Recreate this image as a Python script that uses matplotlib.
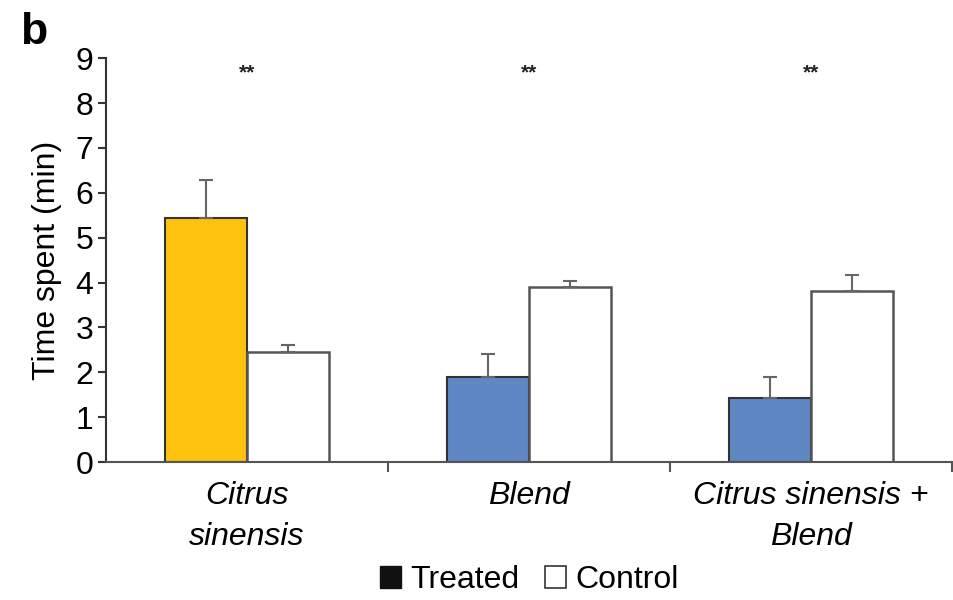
import numpy as np
import matplotlib
matplotlib.use('Agg')
import matplotlib.pyplot as plt
from matplotlib.patches import Patch

plt.rcParams['font.family'] = ['Liberation Sans', 'DejaVu Sans']

groups = ['Citrus\nsinensis', 'Blend', 'Citrus sinensis +\nBlend']
treated = [5.43, 1.89, 1.42]
treated_err = [0.85, 0.51, 0.47]
control = [2.45, 3.90, 3.81]
control_err = [0.15, 0.13, 0.35]
treated_colors = ['#FFC20E', '#5F87C3', '#5F87C3']
signif = ['**', '**', '**']

x = np.arange(len(groups))
w = 0.29

fig = plt.figure(figsize=(9.54, 6), dpi=100)
ax = fig.add_axes([0.111, 0.23, 0.887, 0.673])

ax.bar(x - w/2, treated, w, color=treated_colors, edgecolor='#333333', linewidth=1.5)
ax.errorbar(x - w/2, treated, yerr=[np.zeros(3), treated_err], fmt='none',
            ecolor='#666666', elinewidth=1.5, capsize=5, capthick=1.5)
ax.bar(x + w/2, control, w, color='white', edgecolor='#555555', linewidth=1.8)
ax.errorbar(x + w/2, control, yerr=[np.zeros(3), control_err], fmt='none',
            ecolor='#666666', elinewidth=1.5, capsize=5, capthick=1.5)

for i, s in enumerate(signif):
    ax.text(x[i], 8.68, s, ha='center', va='center', fontsize=15,
            fontweight='bold', color='#222222')

ax.set_xlim(-0.5, 2.5)
ax.set_ylim(0, 9)
ax.set_yticks(range(10))
ax.tick_params(axis='y', labelsize=23, length=6, width=1.5, color='#333333', pad=3)
ax.set_xticks(x)
ax.set_xticklabels(groups, fontsize=23, style='italic', linespacing=1.45)
ax.tick_params(axis='x', which='major', length=0, pad=14)
ax.set_xticks([0.5, 1.5, 2.5], minor=True)
ax.tick_params(axis='x', which='minor', length=7, width=1.5, color='#555555')
ax.set_ylabel('Time spent (min)', fontsize=23, labelpad=10)

for side in ['top', 'right']:
    ax.spines[side].set_visible(False)
ax.spines['left'].set_color('#333333')
ax.spines['left'].set_linewidth(1.5)
ax.spines['bottom'].set_color('#555555')
ax.spines['bottom'].set_linewidth(1.5)

fig.text(0.035, 0.945, 'b', fontsize=32, fontweight='bold', ha='center', va='center')

handles = [Patch(facecolor='#111111', edgecolor='#111111'),
           Patch(facecolor='white', edgecolor='#333333', linewidth=1.2)]
fig.legend(handles, ['Treated', 'Control'], loc='center', bbox_to_anchor=(0.555, 0.033),
           ncol=2, frameon=False, fontsize=23, handlelength=0.65, handleheight=0.65,
           handletextpad=0.3, columnspacing=0.8)

fig.savefig('out.png', dpi=100)
